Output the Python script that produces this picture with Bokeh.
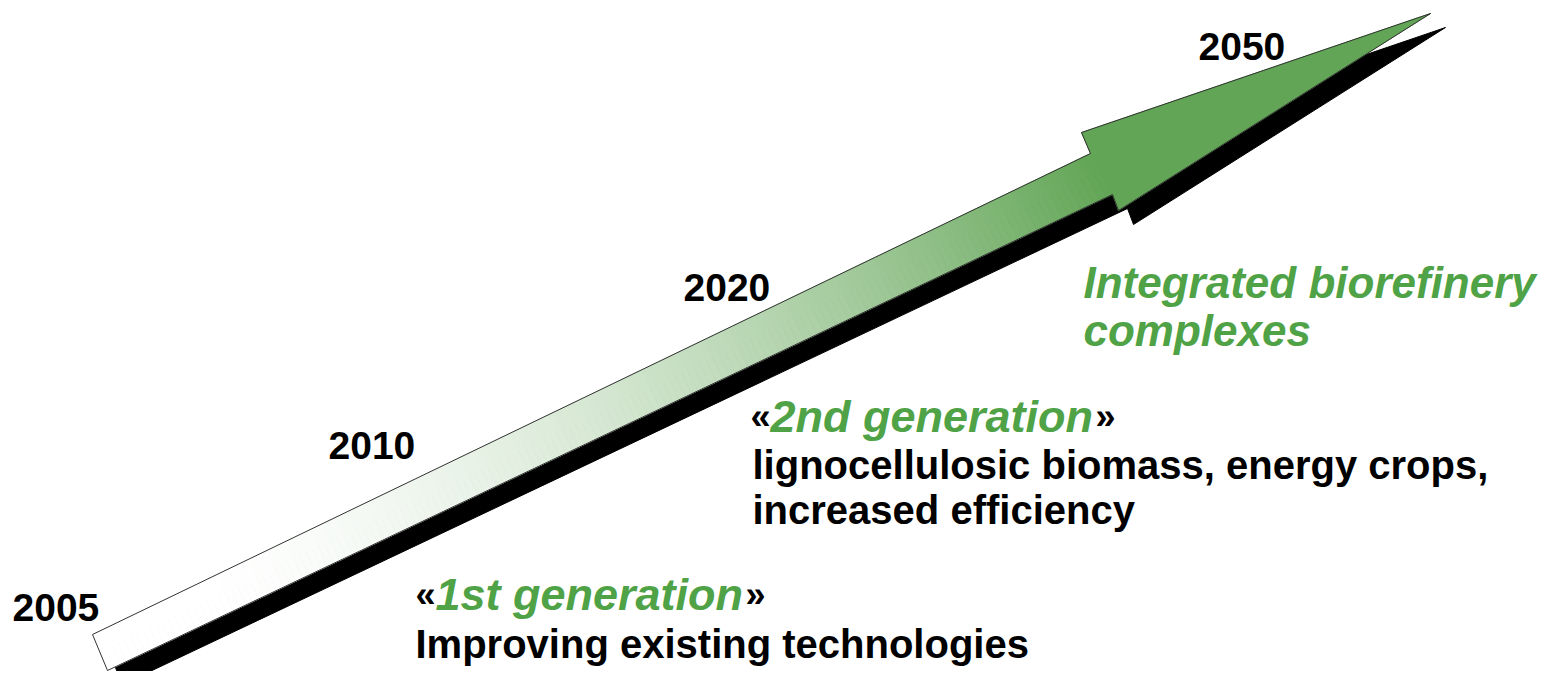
from bokeh.plotting import figure
from bokeh.models import Range1d, ColumnDataSource
from bokeh.core.properties import value
from bokeh.embed import file_html
from bokeh.resources import INLINE

# ---- data (texts) ----
years = ["2005", "2010", "2020", "2050"]
gen1_open, gen1_green, gen1_close = "«", "1st generation", "»"
gen1_desc = ["Improving existing technologies"]
gen2_open, gen2_green, gen2_close = "«", "2nd generation", "»"
gen2_desc = ["lignocellulosic biomass, energy crops,", "increased efficiency"]
final_label = ["Integrated biorefinery", "complexes"]

# ---- layout (screen-pixel coordinates) ----
year_x = [12, 328, 683, 1198]
year_y = [607, 445, 287, 46]

W, H = 1545, 671
p = figure(width=W, height=H, output_backend="svg", toolbar_location=None,
           x_range=Range1d(0, W), y_range=Range1d(H, 0),
           min_border=0, background_fill_color="white", border_fill_color="white")
p.axis.visible = False
p.grid.visible = False
p.outline_line_color = None

# arrow geometry
T1, T2 = (92, 634), (107, 670)          # tail top / bottom
N1, N2 = (1090, 153), (1112, 194)       # shaft end top / bottom
H1, H2 = (1081, 132), (1118, 210)       # head barbs
TIP = (1430, 13)
DX, DY = 15, 14                          # shadow offset

outline = [T1, N1, H1, TIP, H2, N2, T2]
ox = [pt[0] for pt in outline]
oy = [pt[1] for pt in outline]

# shadow
p.patch([x + DX for x in ox], [y + DY for y in oy], fill_color="black", line_color="black", line_width=1)

# gradient shaft
green = (98, 165, 86)
N = 160
xs, ys, cols = [], [], []
for i in range(N):
    t0, t1 = i / N, (i + 1) / N
    def top(t):
        return (T1[0] + t * (N1[0] - T1[0]), T1[1] + t * (N1[1] - T1[1]))
    def bot(t):
        return (T2[0] + t * (N2[0] - T2[0]), T2[1] + t * (N2[1] - T2[1]))
    a, b, c, d = top(t0), top(t1), bot(t1), bot(t0)
    xs.append([a[0], b[0], c[0], d[0]])
    ys.append([a[1], b[1], c[1], d[1]])
    tm = (t0 + t1) / 2
    f = max(0.0, (tm - 0.08) / 0.92) ** 1.7
    r = round(255 + f * (green[0] - 255))
    g = round(255 + f * (green[1] - 255))
    bb = round(255 + f * (green[2] - 255))
    cols.append("#%02x%02x%02x" % (r, g, bb))
src = ColumnDataSource(dict(xs=xs, ys=ys, c=cols))
p.patches("xs", "ys", source=src, fill_color="c", line_color="c", line_width=1)

# head
hx = [N1[0], H1[0], TIP[0], H2[0], N2[0]]
hy = [N1[1], H1[1], TIP[1], H2[1], N2[1]]
gh = "#%02x%02x%02x" % green
p.patch(hx, hy, fill_color=gh, line_color=gh, line_width=1)

# outline
p.patch(ox, oy, fill_color=None, line_color="#333333", line_width=1)

FONT = value("Liberation Sans")
TXT_GREEN = "#4fa246"
FS = "40px"

def txt(x, y, s, color="black", style="bold", size=FS):
    p.text(x=[x], y=[y], text=[s], text_font=FONT, text_font_style=style,
           text_font_size=size, text_color=color, text_align="left",
           text_baseline="alphabetic")

p.text(x=year_x, y=year_y, text=years, text_font=FONT, text_font_style="bold",
       text_font_size="39px", text_color="black", text_align="left",
       text_baseline="alphabetic")

# 1st generation
txt(415, 594, gen1_open, size="36px")
txt(435, 594, gen1_green, TXT_GREEN, "bold italic", "45px")
txt(745, 594, gen1_close, size="36px")
txt(415, 643, gen1_desc[0])

# 2nd generation
txt(750, 416, gen2_open, size="36px")
txt(770, 416, gen2_green, TXT_GREEN, "bold italic", "45px")
txt(1095, 416, gen2_close, size="36px")
txt(752, 464, gen2_desc[0])
txt(752, 509, gen2_desc[1])

# final
txt(1083, 282, final_label[0], TXT_GREEN, "bold italic", "44px")
txt(1083, 330, final_label[1], TXT_GREEN, "bold italic", "44px")

open("out.html", "w").write(file_html(p, INLINE))
